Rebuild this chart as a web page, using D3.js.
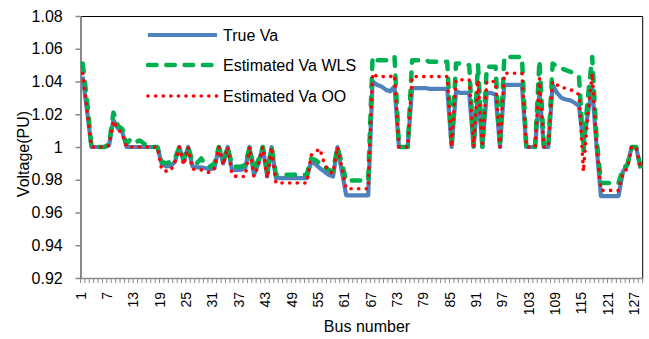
<!DOCTYPE html>
<html>
<head>
<meta charset="utf-8">
<script src="https://cdn.jsdelivr.net/npm/d3@7"></script>
<style>
    body { margin: 0; background: #fff; }
    #chart-area text { font-family: "Liberation Sans", Arial, sans-serif; fill: #000; }
    .axis path, .axis line { stroke: #8a8a8a; stroke-width: 1.5px; }
    .y-axis path { stroke-width: 2px; }
    .line { fill: none; stroke-linejoin: round; }
</style>
</head>
<body>
<div id="chart-area"></div>
<script>
// Buses 1..128 (category axis)
var busNumbers = d3.range(1, 129);
var busTickLabels = [1, 7, 13, 19, 25, 31, 37, 43, 49, 55, 61, 67, 73, 79, 85, 91, 97, 103, 109, 115, 121, 127];
var voltageTicks = [0.92, 0.94, 0.96, 0.98, 1.00, 1.02, 1.04, 1.06, 1.08];

var seriesNames = ["True Va", "Estimated Va WLS", "Estimated Va OO"];

var trueVa = [
    1.043, 1.022, 1.000, 1.000, 1.000, 1.000, 1.001, 1.0165, 1.0115, 1.009,
    1.000, 1.000, 1.000, 1.000, 1.000, 1.000, 1.000, 1.000, 0.9897, 0.9882,
    0.9884, 0.991, 1.000, 0.991, 1.000, 0.988, 0.9876, 0.9876, 0.987, 0.9864,
    0.987, 1.000, 0.990, 1.000, 0.986, 0.986, 0.986, 0.987, 1.000, 0.983,
    0.990, 1.000, 0.982, 1.000, 0.981, 0.981, 0.981, 0.981, 0.981, 0.981,
    0.981, 0.981, 0.991, 0.9895, 0.987, 0.985, 0.983, 0.982, 1.000, 0.985,
    0.9705, 0.9705, 0.9705, 0.9705, 0.9705, 0.9705, 1.040, 1.038, 1.037, 1.035,
    1.034, 1.037, 1.000, 1.000, 1.000, 1.036, 1.036, 1.036, 1.036, 1.0355,
    1.0355, 1.0355, 1.0355, 1.0355, 1.000, 1.034, 1.033, 1.033, 1.033, 1.000,
    1.033, 1.000, 1.033, 1.033, 1.032, 1.000, 1.038, 1.038, 1.038, 1.038,
    1.038, 1.000, 1.000, 1.000, 1.033, 1.000, 1.000, 1.038, 1.033, 1.030,
    1.029, 1.0285, 1.027, 1.025, 1.002, 1.020, 1.037, 1.000, 0.970, 0.970,
    0.970, 0.970, 0.970, 0.985, 0.989, 1.000, 1.000, 0.987
];

var wlsVa = [
    1.051, 1.028, 1.000, 1.000, 1.000, 1.000, 1.002, 1.021, 1.013, 1.011,
    1.002, 1.005, 1.003, 1.004, 1.002, 1.000, 1.000, 1.000, 0.991, 0.990,
    0.991, 0.993, 1.000, 0.993, 1.000, 0.991, 0.990, 0.993, 0.989, 0.988,
    0.990, 1.000, 0.992, 1.000, 0.989, 0.988, 0.988, 0.989, 1.000, 0.986,
    0.992, 1.000, 0.985, 1.000, 0.983, 0.983, 0.983, 0.983, 0.983, 0.983,
    0.983, 0.983, 0.993, 0.992, 0.990, 0.988, 0.986, 0.985, 1.000, 0.990,
    0.9795, 0.9795, 0.9795, 0.9795, 0.9795, 0.9795, 1.055, 1.053, 1.053, 1.053,
    1.053, 1.055, 1.000, 1.000, 1.000, 1.053, 1.053, 1.053, 1.053, 1.052,
    1.052, 1.052, 1.052, 1.052, 1.000, 1.051, 1.051, 1.050, 1.050, 1.000,
    1.050, 1.000, 1.049, 1.049, 1.049, 1.000, 1.055, 1.055, 1.055, 1.055,
    1.055, 1.000, 1.000, 1.000, 1.053, 1.000, 1.000, 1.051, 1.049, 1.048,
    1.047, 1.046, 1.045, 1.043, 0.998, 1.030, 1.055, 1.005, 0.978, 0.978,
    0.978, 0.978, 0.978, 0.987, 0.989, 1.000, 1.000, 0.988
];

var ooVa = [
    1.045, 1.022, 1.000, 1.000, 1.000, 1.000, 1.001, 1.016, 1.011, 1.008,
    1.000, 1.000, 1.000, 1.000, 1.000, 1.000, 1.000, 1.000, 0.986, 0.9853,
    0.9853, 0.991, 1.000, 0.989, 1.000, 0.9864, 0.9864, 0.986, 0.985, 0.9843,
    0.987, 1.000, 0.989, 1.000, 0.983, 0.982, 0.982, 0.982, 1.000, 0.982,
    0.989, 1.000, 0.981, 1.000, 0.978, 0.978, 0.978, 0.978, 0.978, 0.978,
    0.978, 0.978, 0.995, 0.997, 0.999, 0.990, 0.985, 0.984, 1.000, 0.987,
    0.9745, 0.9745, 0.9745, 0.9745, 0.9745, 0.9745, 1.045, 1.043, 1.043, 1.043,
    1.043, 1.044, 1.000, 1.000, 1.000, 1.043, 1.043, 1.043, 1.043, 1.043,
    1.043, 1.043, 1.043, 1.043, 1.000, 1.041, 1.041, 1.041, 1.041, 1.000,
    1.041, 1.000, 1.040, 1.040, 1.040, 1.000, 1.045, 1.045, 1.045, 1.045,
    1.045, 1.000, 1.000, 1.000, 1.042, 1.000, 1.000, 1.040, 1.038, 1.036,
    1.036, 1.035, 1.034, 1.032, 0.985, 1.020, 1.045, 1.000, 0.9735, 0.9735,
    0.9735, 0.9735, 0.9735, 0.984, 0.987, 1.000, 1.000, 0.987
];


VoltageChart = function(_parentElement, _series){
    this.parentElement = _parentElement;
    this.series = _series;
    this.margin = { top: 16, right: 6.3, bottom: 61, left: 80.5 };
    this.width = 649 - this.margin.left - this.margin.right;
    this.height = 339 - this.margin.top - this.margin.bottom;

    this.initVis();
};

VoltageChart.prototype.initVis = function(){
    this.initSVG();
    this.initAxes();
    this.drawLines();
    this.drawLegend();
};

VoltageChart.prototype.initSVG = function() {
    this.svg = d3.select("#" + this.parentElement).append("svg")
        .attr("width", this.width + this.margin.left + this.margin.right)
        .attr("height", this.height + this.margin.top + this.margin.bottom)
        .append("g")
        .attr("transform", "translate(" + this.margin.left + "," + this.margin.top + ")");
};

VoltageChart.prototype.initAxes = function() {
    var vis = this;

    vis.x = d3.scaleBand()
        .domain(busNumbers)
        .range([0, vis.width])
        .padding(0);

    vis.y = d3.scaleLinear()
        .domain([0.92, 1.08])
        .range([vis.height, 0]);

    // plot area border (top + right)
    vis.svg.append("path")
        .attr("d", "M0,0.5H" + vis.width + "V" + vis.height)
        .attr("fill", "none")
        .attr("stroke", "#000")
        .attr("stroke-width", 1);

    vis.yAxis = d3.axisLeft(vis.y)
        .tickValues(voltageTicks)
        .tickSize(5)
        .tickSizeOuter(0)
        .tickPadding(12.8)
        .tickFormat(function(d) { return String(+d.toFixed(2)); });

    vis.svg.append("g")
        .attr("class", "y-axis axis")
        .call(vis.yAxis)
        .selectAll("text")
        .style("font-size", "16px");

    // labels at band centres
    vis.xAxis = d3.axisBottom(vis.x)
        .tickValues(busTickLabels)
        .tickSize(0)
        .tickSizeOuter(0);

    var gx = vis.svg.append("g")
        .attr("class", "x-axis axis")
        .attr("transform", "translate(0," + vis.height + ")")
        .call(vis.xAxis);

    gx.selectAll("text")
        .style("font-size", "14px")
        .attr("transform", "rotate(-90)")
        .attr("text-anchor", "end")
        .attr("x", -14)
        .attr("y", 3)
        .attr("dy", null);

    // tick marks between categories
    var boundaries = busNumbers.map(function(b) { return vis.x(b); }).concat([vis.width]);
    gx.selectAll(".cat-tick")
        .data(boundaries)
        .enter().append("line")
        .attr("class", "cat-tick")
        .attr("x1", function(d) { return d; })
        .attr("x2", function(d) { return d; })
        .attr("y1", 0)
        .attr("y2", 5)
        .style("stroke-width", "1px");

    vis.svg.append("text")
        .attr("x", 367 - vis.margin.left)
        .attr("y", vis.height + 54)
        .attr("text-anchor", "middle")
        .style("font-size", "16px")
        .text("Bus number");

    vis.svg.append("text")
        .attr("transform", "translate(" + (28.5 - vis.margin.left) + "," + (154 - vis.margin.top) + ") rotate(-90)")
        .attr("text-anchor", "middle")
        .style("font-size", "16px")
        .text("Voltage(PU)");
};

VoltageChart.prototype.drawLines = function() {
    var vis = this;
    var half = vis.x.bandwidth() / 2;

    vis.line = d3.line()
        .x(function(d, i) { return vis.x(busNumbers[i]) + half; })
        .y(function(d) { return vis.y(d); });

    vis.svg.selectAll(".line")
        .data(vis.series)
        .enter().append("path")
        .attr("class", "line")
        .attr("d", function(d) { return vis.line(d.values); })
        .style("stroke", function(d) { return d.color; })
        .style("stroke-width", function(d) { return d.width; })
        .style("stroke-dasharray", function(d) { return d.dash; })
        .style("stroke-linecap", function(d) { return d.cap; });
};

VoltageChart.prototype.drawLegend = function() {
    var vis = this;
    var rowY = [19, 49, 80];

    var legend = vis.svg.selectAll(".legend-item")
        .data(vis.series)
        .enter().append("g")
        .attr("class", "legend-item")
        .attr("transform", function(d, i) { return "translate(" + (148 - vis.margin.left) + "," + rowY[i] + ")"; });

    legend.append("line")
        .attr("x1", 0)
        .attr("x2", 69)
        .style("stroke", function(d) { return d.color; })
        .style("stroke-width", function(d) { return d.width; })
        .style("stroke-dasharray", function(d) { return d.dash; })
        .style("stroke-linecap", function(d) { return d.cap; });

    legend.append("text")
        .attr("x", 75)
        .attr("dy", "0.35em")
        .style("font-size", "16px")
        .text(function(d) { return d.name; });
};

var series = [
    { name: seriesNames[0], values: trueVa, color: "#4F81BD", width: 4.2, dash: null, cap: "butt" },
    { name: seriesNames[1], values: wlsVa, color: "#00B050", width: 4.5, dash: "8.5,9.8", cap: "round" },
    { name: seriesNames[2], values: ooVa, color: "#FF0000", width: 3.6, dash: "0.1,7.5", cap: "round" }
];

var chart = new VoltageChart("chart-area", series);
</script>
</body>
</html>
